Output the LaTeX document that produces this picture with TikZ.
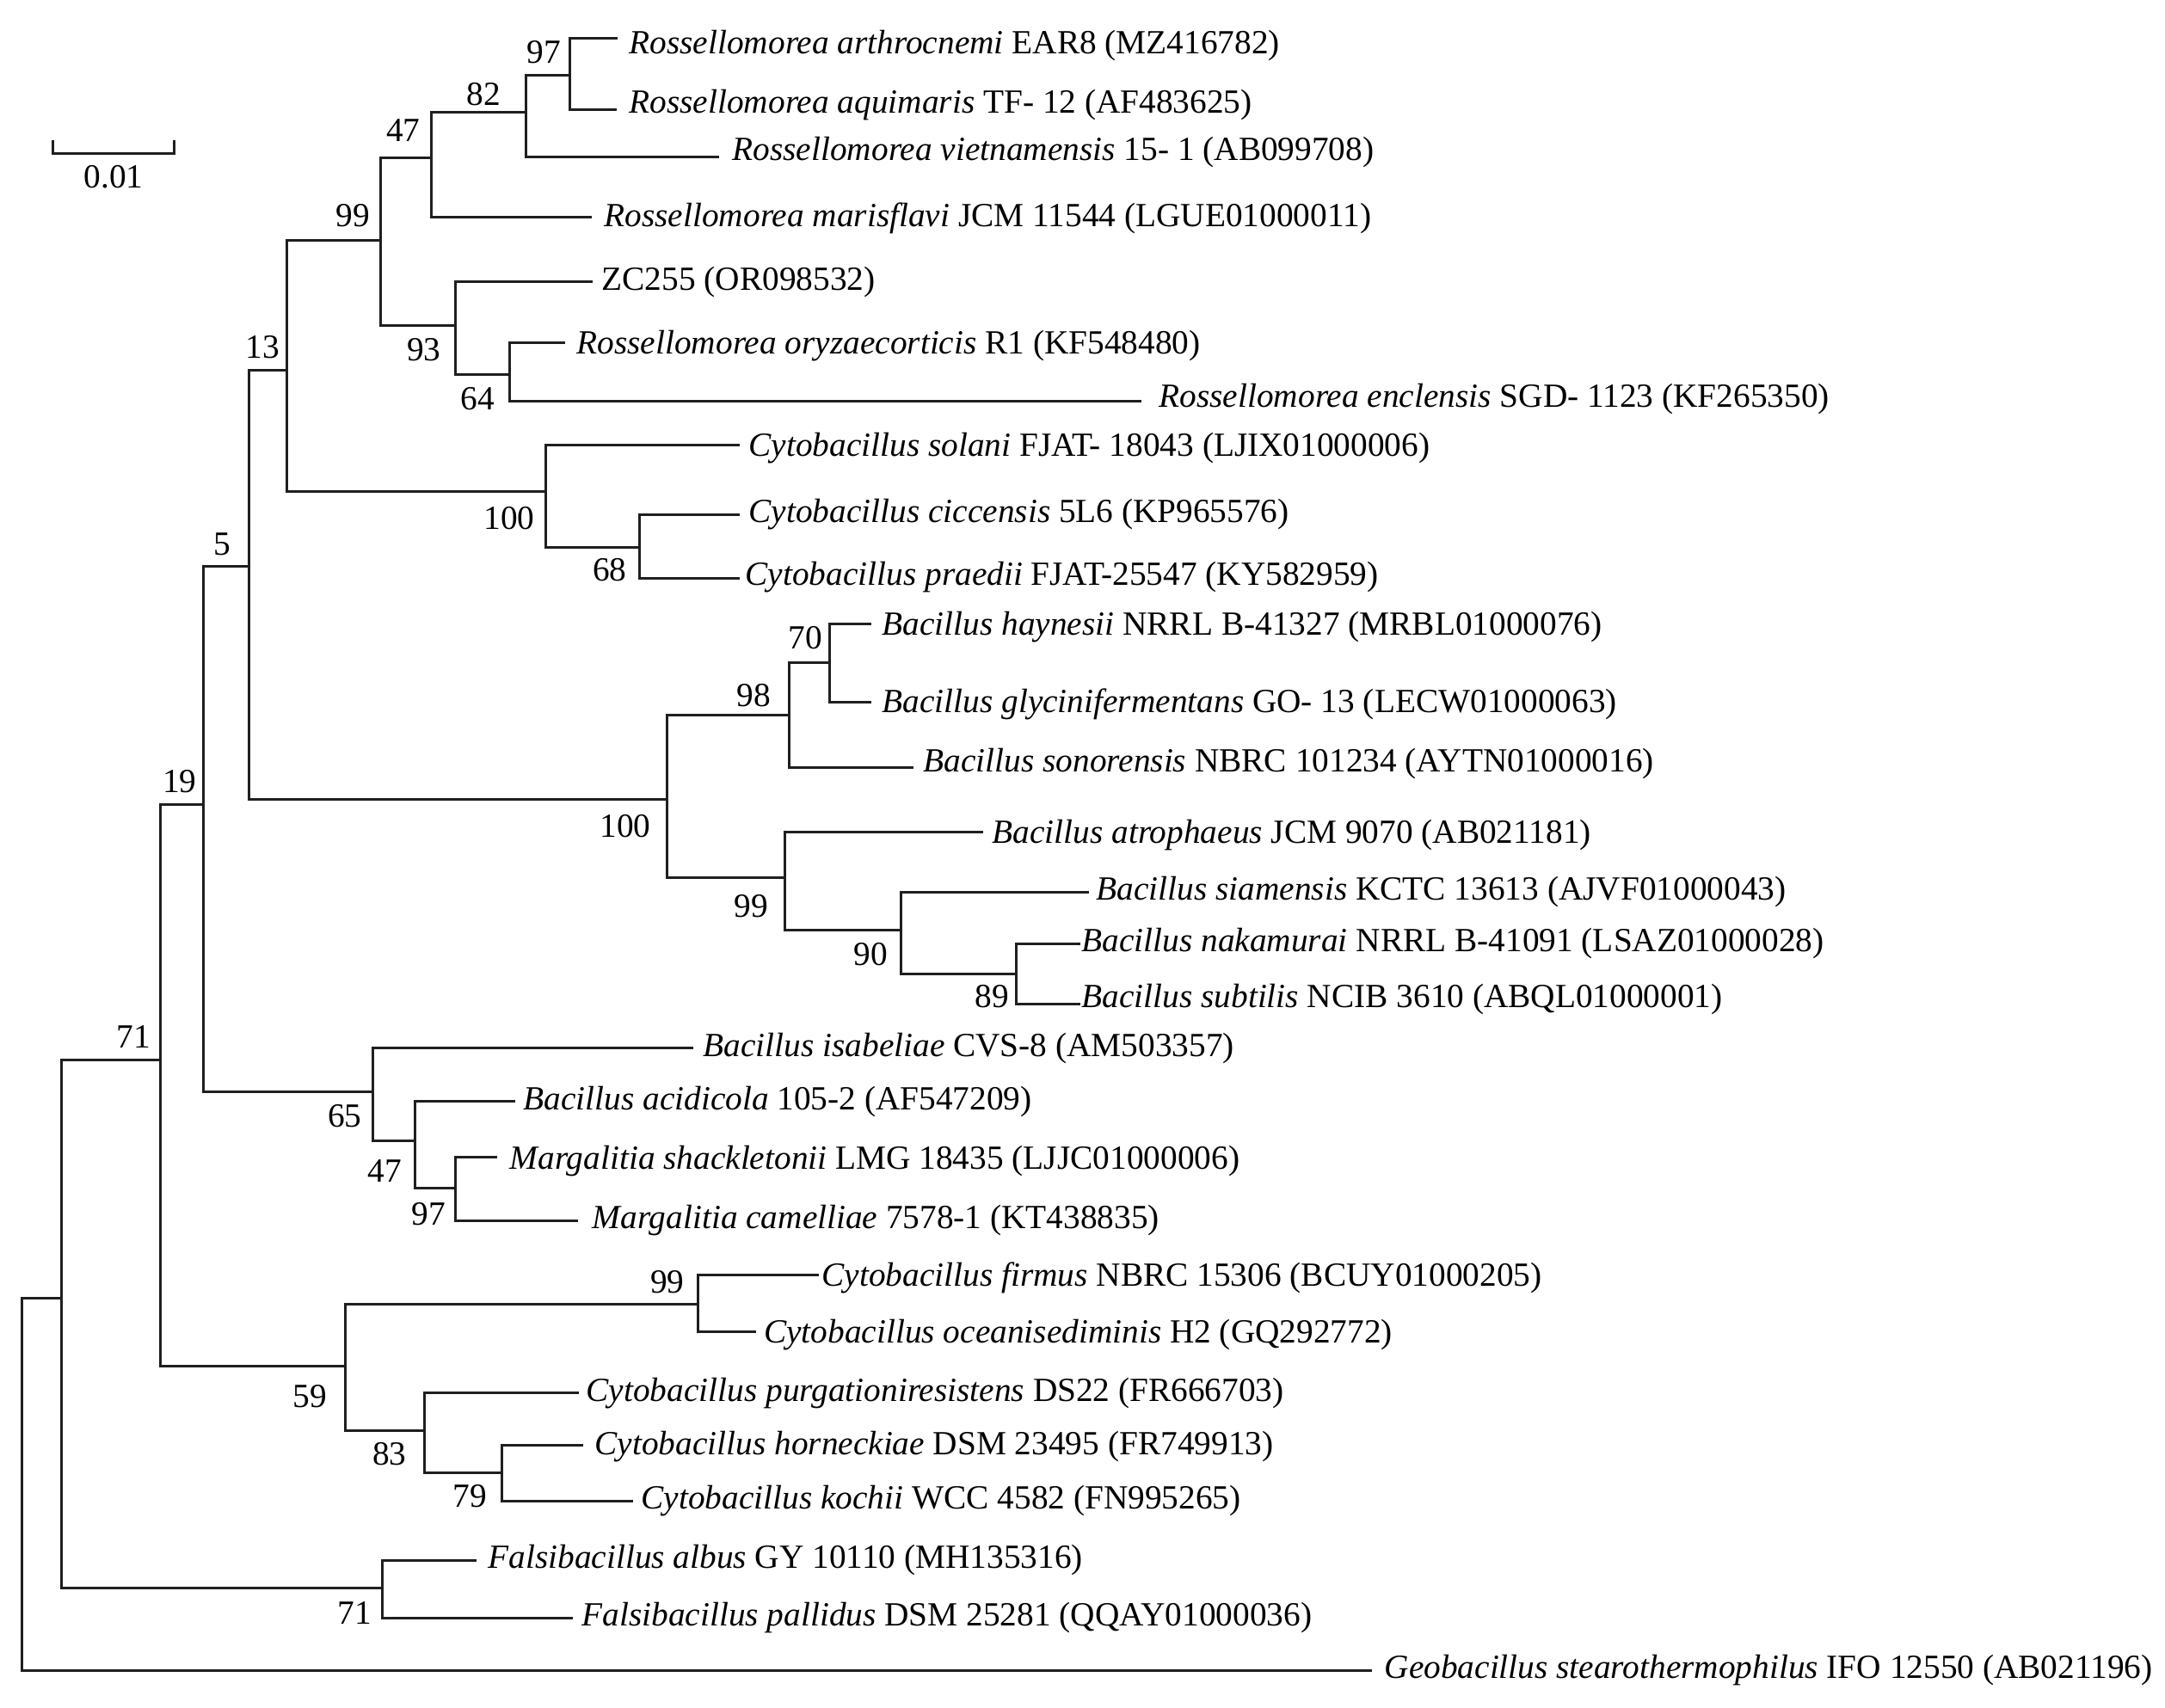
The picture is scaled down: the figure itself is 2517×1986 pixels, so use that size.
\documentclass[tikz,border=0pt]{standalone}
\usepackage{fontspec}
\setmainfont{Liberation Serif}
\newcommand\fsz{\fontsize{11.8pt}{14pt}\selectfont}
\begin{document}
\begin{tikzpicture}[x=0.3pt,y=-0.3pt,
  br/.style={line width=0.9pt, draw=black!88, line cap=rect},
  leaf/.style={anchor=west, inner ysep=0pt, inner xsep=#1*0.3pt, text height=7.7pt, text depth=0pt, font=\fsz},
  leaf/.default=12,
  bs/.style={font=\fsz, inner sep=0pt}]
\useasboundingbox (0,0) rectangle (2517,1986);
% internal nodes
\coordinate (root) at (25.2,1509.1);
\coordinate (nA) at (71.2,1509.1);
\coordinate (n71) at (186.4,1232.6);
\coordinate (n19) at (236.8,935.7);
\coordinate (n5) at (289.3,658.4);
\coordinate (n13) at (333.2,430.8);
\coordinate (n99) at (442.5,279.9);
\coordinate (n47) at (501.4,183);
\coordinate (n82) at (611.2,130.8);
\coordinate (n97) at (662.7,87.9);
\coordinate (n93) at (529.3,378.5);
\coordinate (n64) at (592,435.2);
\coordinate (nC100) at (634.8,571.4);
\coordinate (n68) at (743,636.1);
\coordinate (nB100) at (775.2,929.9);
\coordinate (n98) at (917.7,831);
\coordinate (n70) at (964.3,770.5);
\coordinate (nB99) at (912.3,1020.5);
\coordinate (n90) at (1047.3,1081.7);
\coordinate (n89) at (1181.8,1132.1);
\coordinate (n65) at (433.9,1269.6);
\coordinate (nM47) at (482.1,1326.3);
\coordinate (nM97) at (529.3,1381.8);
\coordinate (n59) at (401.8,1588.8);
\coordinate (nC99) at (811.6,1516.6);
\coordinate (n83) at (493.9,1663.1);
\coordinate (n79) at (583.9,1712.1);
\coordinate (nF71) at (444.6,1846);
% leaves
\node[leaf=15] (arth) at (716,44.6) {\raisebox{-1.5pt}{\textit{Rossellomorea arthrocnemi} EAR8 (MZ416782)}};
\node[leaf=16] (aqui) at (715,127.2) {\raisebox{2.7pt}{\textit{Rossellomorea aquimaris} TF- 12 (AF483625)}};
\node[leaf=17] (viet) at (834,182.1) {\raisebox{2.4pt}{\textit{Rossellomorea vietnamensis} 15- 1 (AB099708)}};
\node[leaf=16] (maris) at (686,252.2) {\raisebox{0.6pt}{\textit{Rossellomorea marisflavi} JCM 11544 (LGUE01000011)}};
\node[leaf=12] (zc) at (687,327.2) {\raisebox{0.9pt}{ZC255 (OR098532)}};
\node[leaf=15] (oryz) at (655,398.6) {\textit{Rossellomorea oryzaecorticis} R1 (KF548480)};
\node[leaf=22] (encl) at (1325,466.5) {\raisebox{1.8pt}{\textit{Rossellomorea enclensis} SGD- 1123 (KF265350)}};
\node[leaf=12] (solani) at (858,517.8) {\textit{Cytobacillus solani} FJAT- 18043 (LJIX01000006)};
\node[leaf=12] (cicc) at (858,598.2) {\raisebox{1.2pt}{\textit{Cytobacillus ciccensis} 5L6 (KP965576)}};
\node[leaf=8] (praed) at (858,672.7) {\raisebox{1.5pt}{\textit{Cytobacillus praedii} FJAT-25547 (KY582959)}};
\node[leaf=14] (hayn) at (1011,725.9) {\textit{Bacillus haynesii} NRRL B-41327 (MRBL01000076)};
\node[leaf=14] (glyc) at (1011,816.1) {\textit{Bacillus glycinifermentans} GO- 13 (LECW01000063)};
\node[leaf=13] (sonor) at (1060,892.4) {\raisebox{2.4pt}{\textit{Bacillus sonorensis} NBRC 101234 (AYTN01000016)}};
\node[leaf=12] (atroph) at (1141,967.8) {\textit{Bacillus atrophaeus} JCM 9070 (AB021181)};
\node[leaf=10] (siam) at (1264,1037.5) {\raisebox{1.2pt}{\textit{Bacillus siamensis} KCTC 13613 (AJVF01000043)}};
\node[leaf=3] (nakam) at (1254,1097.3) {\raisebox{1.2pt}{\textit{Bacillus nakamurai} NRRL B-41091 (LSAZ01000028)}};
\node[leaf=3] (subt) at (1254,1167.8) {\raisebox{2.7pt}{\textit{Bacillus subtilis} NCIB 3610 (ABQL01000001)}};
\node[leaf=13] (isab) at (804,1218.3) {\raisebox{0.9pt}{\textit{Bacillus isabeliae} CVS-8 (AM503357)}};
\node[leaf=11] (acid) at (597,1280.8) {\raisebox{0.9pt}{\textit{Bacillus acidicola} 105-2 (AF547209)}};
\node[leaf=16] (shack) at (576,1345) {\raisebox{-0.6pt}{\textit{Margalitia shackletonii} LMG 18435 (LJJC01000006)}};
\node[leaf=18] (camel) at (670,1419.4) {\raisebox{1.2pt}{\textit{Margalitia camelliae} 7578-1 (KT438835)}};
\node[leaf=5] (firm) at (950,1482.9) {\textit{Cytobacillus firmus} NBRC 15306 (BCUY01000205)};
\node[leaf=10] (ocean) at (877.5,1548.5) {\textit{Cytobacillus oceanisediminis} H2 (GQ292772)};
\node[leaf=10] (purg) at (671,1619.4) {\raisebox{0.9pt}{\textit{Cytobacillus purgationiresistens} DS22 (FR666703)}};
\node[leaf=15] (horn) at (676,1680.6) {\raisebox{0.6pt}{\textit{Cytobacillus horneckiae} DSM 23495 (FR749913)}};
\node[leaf=11] (koch) at (734,1745.4) {\raisebox{1.2pt}{\textit{Cytobacillus kochii} WCC 4582 (FN995265)}};
\node[leaf=15] (albus) at (552,1814) {\raisebox{0.9pt}{\textit{Falsibacillus albus} GY 10110 (MH135316)}};
\node[leaf=12] (pallid) at (664,1881) {\raisebox{0.9pt}{\textit{Falsibacillus pallidus} DSM 25281 (QQAY01000036)}};
\node[leaf=16] (geo) at (1593,1942) {\raisebox{0.9pt}{\textit{Geobacillus stearothermophilus} IFO 12550 (AB021196)}};
% branches
\draw[br] (nA) -| (root) |- (geo.west);
\draw[br] (n71) -| (nA) |- (nF71);
\draw[br] (n19) -| (n71) |- (n59);
\draw[br] (n5) -| (n19) |- (n65);
\draw[br] (n13) -| (n5) |- (nB100);
\draw[br] (n99) -| (n13) |- (nC100);
\draw[br] (n47) -| (n99) |- (n93);
\draw[br] (n82) -| (n47) |- (maris.west);
\draw[br] (n97) -| (n82) |- (viet.west);
\draw[br] (arth.west) -| (n97) |- (aqui.west);
\draw[br] (zc.west) -| (n93) |- (n64);
\draw[br] (oryz.west) -| (n64) |- (encl.west);
\draw[br] (solani.west) -| (nC100) |- (n68);
\draw[br] (cicc.west) -| (n68) |- (praed.west);
\draw[br] (n98) -| (nB100) |- (nB99);
\draw[br] (n70) -| (n98) |- (sonor.west);
\draw[br] (hayn.west) -| (n70) |- (glyc.west);
\draw[br] (atroph.west) -| (nB99) |- (n90);
\draw[br] (siam.west) -| (n90) |- (n89);
\draw[br] (nakam.west) -| (n89) |- (subt.west);
\draw[br] (isab.west) -| (n65) |- (nM47);
\draw[br] (acid.west) -| (nM47) |- (nM97);
\draw[br] (shack.west) -| (nM97) |- (camel.west);
\draw[br] (nC99) -| (n59) |- (n83);
\draw[br] (firm.west) -| (nC99) |- (ocean.west);
\draw[br] (purg.west) -| (n83) |- (n79);
\draw[br] (horn.west) -| (n79) |- (koch.west);
\draw[br] (albus.west) -| (nF71) |- (pallid.west);
% bootstrap values
\node[bs] (b97) at (632,61) {97};
\node[bs] (b82) at (562.5,109.4) {82};
\node[bs] (b47) at (468.7,151.8) {47};
\node[bs] (b99) at (410,250.9) {99};
\node[bs] (b93) at (492.9,406.2) {93};
\node[bs] (b64) at (555.5,463.4) {64};
\node[bs] (b13) at (305,404) {13};
\node[bs] (bC100) at (592,602.6) {100};
\node[bs] (b68) at (708.7,662.9) {68};
\node[bs] (b5) at (258.7,633) {5};
\node[bs] (b19) at (208.9,908.9) {19};
\node[bs] (bB100) at (727,960.3) {100};
\node[bs] (b71) at (155.4,1205.8) {71};
\node[bs] (b98) at (876.4,808.5) {98};
\node[bs] (b70) at (936.4,741.5) {70};
\node[bs] (bB99) at (873.2,1054) {99};
\node[bs] (b90) at (1012.5,1109.8) {90};
\node[bs] (b89) at (1153.4,1158.9) {89};
\node[bs] (b65) at (400.7,1297.3) {65};
\node[bs] (bM47) at (447.3,1361.3) {47};
\node[bs] (bM97) at (498.2,1411.6) {97};
\node[bs] (b59) at (360,1623.8) {59};
\node[bs] (bC99) at (775.7,1490.3) {99};
\node[bs] (b83) at (452.7,1690.7) {83};
\node[bs] (b79) at (546.4,1739.7) {79};
\node[bs] (bF71) at (412.5,1875.3) {71};
% scale bar
\coordinate (sbL) at (61.6,178);
\coordinate (sbR) at (202,178);
\draw[br, line cap=butt] ([yshift=4.5pt]sbL) -- (sbL) -- (sbR) -- ([yshift=4.5pt]sbR);
\node[bs] (sblab) at (132,206) {0.01};
\end{tikzpicture}
\end{document}
